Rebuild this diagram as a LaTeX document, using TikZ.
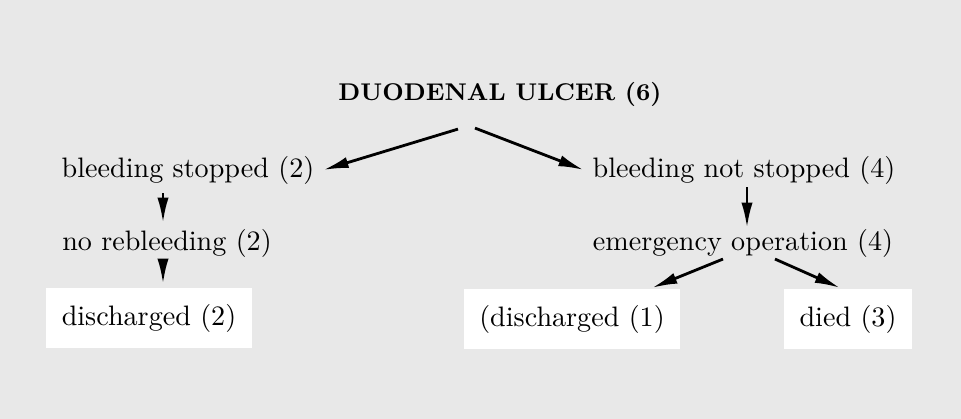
\documentclass[tikz,border=0pt]{standalone}
\usetikzlibrary{arrows.meta,calc}
\definecolor{paper}{gray}{0.91}
\tikzset{arr/.style={-{Latex[length=9pt, width=4pt]}, line width=1pt},
  txt/.style={inner sep=3pt, font=\normalsize},
  outbox/.style={txt, fill=white, inner xsep=5.5pt, inner ysep=5.5pt}}

\begin{document}
\begin{tikzpicture}[x=0.0125cm, y=-0.0125cm]
  % page
  \fill[paper] (0,0) rectangle (961,419);
  \useasboundingbox (0,0) rectangle (961,419);
  % top
  \node[txt, font=\fontsize{8.6}{10}\selectfont\bfseries] (title) at (500,94) {DUODENAL ULCER (6)};
  % left branch
  \node[txt] (bs)  at (188,170) {bleeding stopped (2)};
  \node[txt] (nr)  at (167,243) {no rebleeding (2)};
  \node[outbox] (dis2) at (149,318) {discharged (2)};
  % right branch
  \node[txt] (bns) at (744,170) {bleeding not stopped (4)};
  \node[txt] (eo)  at (743,243) {emergency operation (4)};
  \node[outbox] (dis1) at (572,319) {(discharged (1)};
  \node[outbox] (died) at (848,319) {died (3)};
  % connectors
  \draw[arr] ($(title.south)+(-42,14)$) -- (bs.east);
  \draw[arr] ($(title.south)+(-25,13)$) -- (bns.west);
  \draw[arr] ($(bs.south)+(-25,0)$) -- ($(nr.north)+(-4,3)$);
  \draw[arr] ($(nr.south)+(-4,-4)$) -- ($(dis2.north)+(14,-4)$);
  \draw[arr] ($(bns.south)+(3,-6)$) -- ($(eo.north)+(4,8)$);
  \draw[arr] ($(eo.south)+(-20,-7)$) -- ($(dis1.north)+(80,-1)$);
  \draw[arr] ($(eo.south)+(32,-7)$) -- ($(died.north)+(-8,-1)$);
\end{tikzpicture}
\end{document}
